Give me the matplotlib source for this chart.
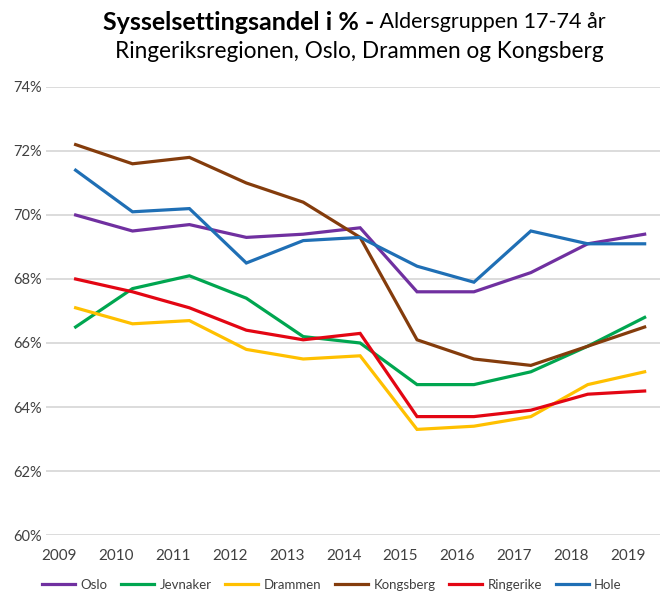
import matplotlib
import matplotlib.pyplot as plt

matplotlib.use('Agg')

plt.rcParams['font.family'] = ['Lato', 'DejaVu Sans']

years = [2009, 2010, 2011, 2012, 2013, 2014, 2015, 2016, 2017, 2018, 2019]

oslo = [70.0, 69.5, 69.7, 69.3, 69.4, 69.6, 67.6, 67.6, 68.2, 69.1, 69.4]
jevnaker = [66.5, 67.7, 68.1, 67.4, 66.2, 66.0, 64.7, 64.7, 65.1, 65.9, 66.8]
drammen = [67.1, 66.6, 66.7, 65.8, 65.5, 65.6, 63.3, 63.4, 63.7, 64.7, 65.1]
kongsberg = [72.2, 71.6, 71.8, 71.0, 70.4, 69.3, 66.1, 65.5, 65.3, 65.9, 66.5]
ringerike = [68.0, 67.6, 67.1, 66.4, 66.1, 66.3, 63.7, 63.7, 63.9, 64.4, 64.5]
hole = [71.4, 70.1, 70.2, 68.5, 69.2, 69.3, 68.4, 67.9, 69.5, 69.1, 69.1]

series = [
    ('Oslo', oslo, '#7030A0'),
    ('Jevnaker', jevnaker, '#00A650'),
    ('Drammen', drammen, '#FFC000'),
    ('Kongsberg', kongsberg, '#843C0C'),
    ('Ringerike', ringerike, '#E30613'),
    ('Hole', hole, '#1F6FB5'),
]

y_ticks = [60, 62, 64, 66, 68, 70, 72, 74]

# data points sit a bit right of the year labels in the original
point_offset = 0.29

fig = plt.figure(figsize=(6.65, 5.93), dpi=100)
ax = fig.add_axes([0.0692, 0.0978, 0.9233, 0.7555])

idx = list(range(len(years)))
for name, values, color in series:
    ax.plot([i + point_offset for i in idx], values, color=color, lw=2.3,
            label=name, solid_joinstyle='miter')

ax.set_ylim(60, 74)
ax.set_xlim(-0.23, 10.56)
ax.set_yticks(y_ticks)
ax.set_yticklabels([f'{t}%' for t in y_ticks])
ax.set_xticks(idx)
ax.set_xticklabels([str(y) for y in years])
ax.grid(axis='y', color='#D9D9D9', lw=1.3)
ax.set_axisbelow(True)
for s in ax.spines.values():
    s.set_visible(False)
ax.tick_params(axis='y', length=0, pad=3, labelsize=10.5, labelcolor='#404040')
ax.tick_params(axis='x', length=0, pad=10, labelsize=11, labelcolor='#404040')

# title: bold part + regular part on first line, centered together
fig.canvas.draw()
renderer = fig.canvas.get_renderer()
t1 = fig.text(0, 1 - 22 / 593, 'Sysselsettingsandel i % -', fontsize=18,
              fontweight='bold', va='center', ha='left', color='black')
t2 = fig.text(0, 1 - 22 / 593, ' Aldersgruppen 17-74 år', fontsize=15.5,
              va='center', ha='left', color='black')
w1 = t1.get_window_extent(renderer).width
w2 = t2.get_window_extent(renderer).width
fig_w = fig.bbox.width
start = 354 - (w1 + w2) / 2
t1.set_x(start / fig_w)
t2.set_x((start + w1) / fig_w)
fig.text(359 / fig_w, 1 - 51 / 593, 'Ringeriksregionen, Oslo, Drammen og Kongsberg',
         fontsize=16.3, va='center', ha='center', color='black')

fig.legend(loc='center', bbox_to_anchor=(332 / fig_w, 1 - 585 / 593), ncol=6,
           frameon=False, fontsize=9.5, handlelength=2.5, handletextpad=0.4,
           columnspacing=1.05, labelcolor='#404040')

fig.savefig('out.png', dpi=100)
